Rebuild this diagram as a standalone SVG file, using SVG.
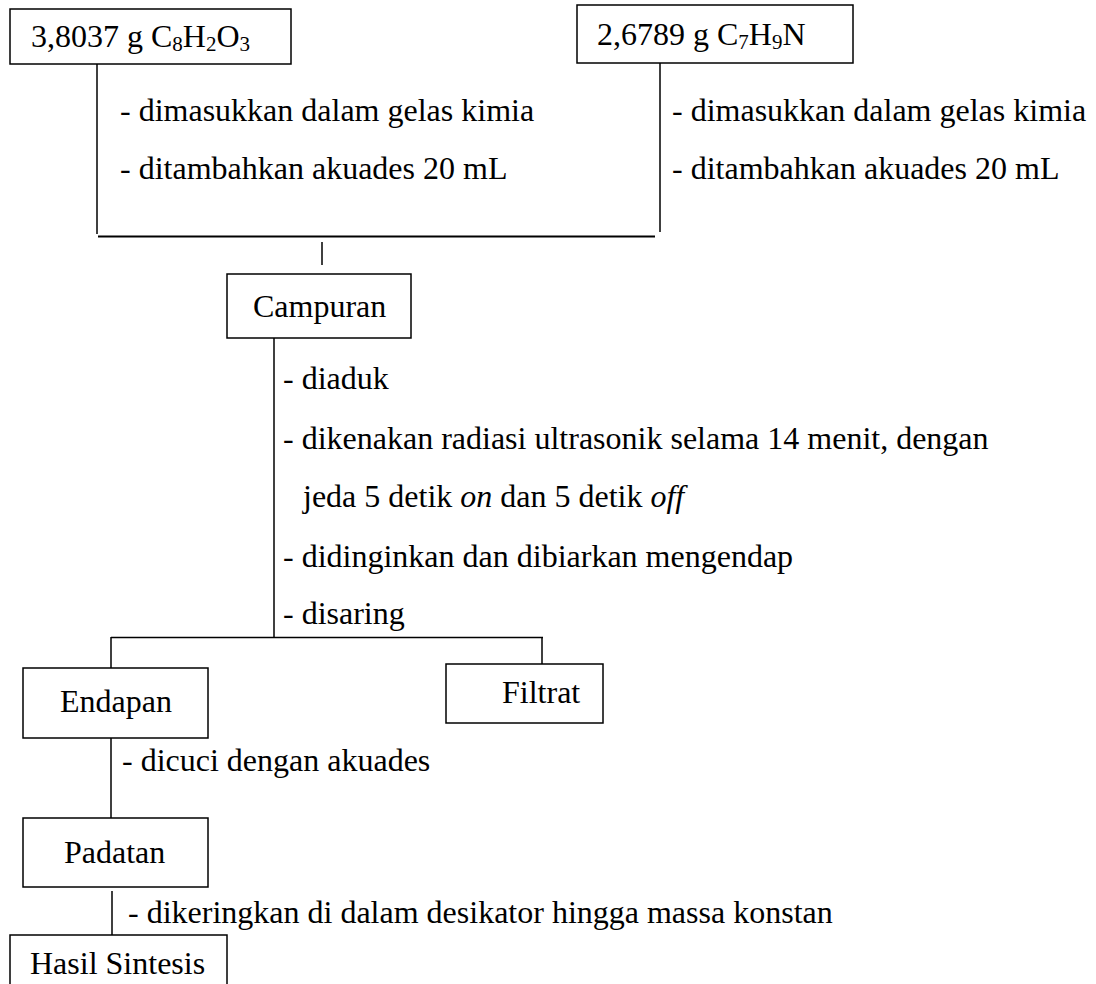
<svg xmlns="http://www.w3.org/2000/svg" width="1096" height="984" viewBox="0 0 1096 984">
<style>
text{font-family:"Liberation Serif","Times New Roman",serif;font-size:32px;fill:#000}
.sub{font-size:21px}
.box{fill:#fff;stroke:#000;stroke-width:1.5}
line{stroke:#000;stroke-width:1.5}
.thick{stroke-width:2.2}
</style>
<rect x="0" y="0" width="1096" height="984" fill="#fff"/>
<g id="connectors">
<line x1="97" y1="64" x2="97" y2="234"/>
<line x1="660" y1="63" x2="660" y2="232"/>
<line class="thick" x1="98" y1="236.5" x2="655" y2="236.5"/>
<line x1="322" y1="242" x2="322" y2="265"/>
<line x1="274" y1="338" x2="274" y2="638"/>
<line x1="111" y1="637.5" x2="543" y2="637.5"/>
<line x1="111" y1="637" x2="111" y2="668"/>
<line x1="542" y1="637" x2="542" y2="664"/>
<line x1="111" y1="738" x2="111" y2="818"/>
<line x1="112" y1="891" x2="112" y2="935"/>
</g>
<g id="labels">
<text x="120" y="121">- dimasukkan dalam gelas kimia</text>
<text x="120" y="179">- ditambahkan akuades 20 mL</text>
<text x="672" y="121">- dimasukkan dalam gelas kimia</text>
<text x="672" y="179">- ditambahkan akuades 20 mL</text>
<text x="283" y="389">- diaduk</text>
<text x="283" y="449">- dikenakan radiasi ultrasonik selama 14 menit, dengan</text>
<text x="303" y="507">jeda 5 detik <tspan font-style="italic">on</tspan> dan 5 detik <tspan font-style="italic">off</tspan></text>
<text x="283" y="567">- didinginkan dan dibiarkan mengendap</text>
<text x="283" y="624">- disaring</text>
<text x="122" y="771">- dicuci dengan akuades</text>
<text x="128" y="923">- dikeringkan di dalam desikator hingga massa konstan</text>
</g>
<g id="node-c8h2o3">
<rect class="box" x="10" y="9" width="281" height="55"/>
<text x="31" y="47">3,8037 g C<tspan class="sub" dy="4">8</tspan><tspan dy="-4">H</tspan><tspan class="sub" dy="4">2</tspan><tspan dy="-4">O</tspan><tspan class="sub" dy="4">3</tspan></text>
</g>
<g id="node-c7h9n">
<rect class="box" x="577" y="5" width="276" height="58"/>
<text x="597" y="45">2,6789 g C<tspan class="sub" dy="4">7</tspan><tspan dy="-4">H</tspan><tspan class="sub" dy="4">9</tspan><tspan dy="-4">N</tspan></text>
</g>
<g id="node-campuran">
<rect class="box" x="227" y="274" width="184" height="64"/>
<text x="253" y="317">Campuran</text>
</g>
<g id="node-endapan">
<rect class="box" x="23" y="668" width="185" height="70"/>
<text x="60" y="712">Endapan</text>
</g>
<g id="node-filtrat">
<rect class="box" x="446" y="664" width="157" height="59"/>
<text x="502" y="703">Filtrat</text>
</g>
<g id="node-padatan">
<rect class="box" x="23" y="818" width="185" height="69"/>
<text x="64" y="863">Padatan</text>
</g>
<g id="node-hasil">
<rect class="box" x="10" y="935" width="217" height="70"/>
<text x="30" y="974">Hasil Sintesis</text>
</g>
</svg>
